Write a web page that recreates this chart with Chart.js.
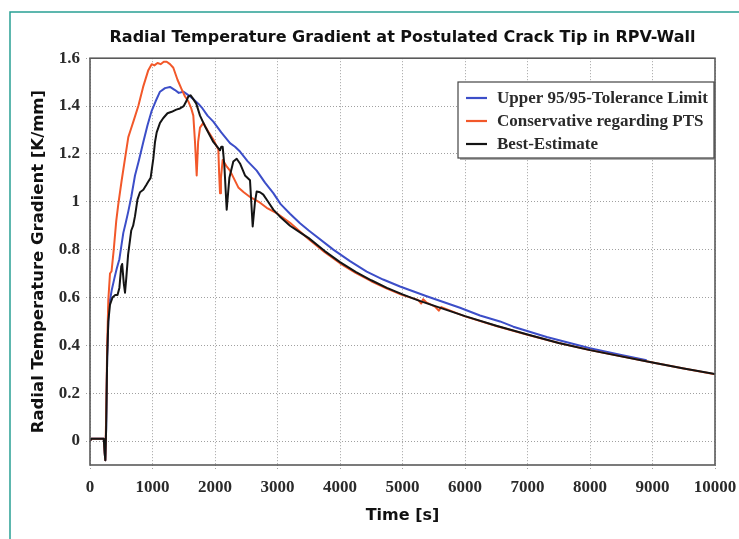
<!DOCTYPE html>
<html>
<head>
<meta charset="utf-8">
<title>Radial Temperature Gradient</title>
<script src="https://cdn.jsdelivr.net/npm/chart.js@4.4.0/dist/chart.umd.min.js"></script>
<style>
  html, body { margin: 0; padding: 0; background: #fff; }
  #wrap { width: 739px; height: 539px; }
</style>
</head>
<body>
<div id="wrap"><canvas id="gradChart" width="739" height="539"></canvas></div>
<script>
// --- Data: time [s] and radial gradient [K/mm] per case ---

const timeTicks = [0, 1000, 2000, 3000, 4000, 5000, 6000, 7000, 8000, 9000, 10000];
const gradTicks = [0, 0.2, 0.4, 0.6, 0.8, 1, 1.2, 1.4, 1.6];

const upperTime = [
    0, 20, 220, 235, 245, 258, 275, 300, 347, 390,
    427, 470, 533, 570, 613, 660, 720, 780, 853, 920,
    987, 1050, 1120, 1200, 1280, 1360, 1420, 1493, 1573, 1650,
    1733, 1800, 1880, 1973, 2100, 2240, 2320, 2400, 2520, 2667,
    2800, 2933, 3050, 3200, 3360, 3500, 3893, 4160, 4427, 4690,
    4960, 5387, 5920, 6240, 6560, 6773, 7307, 8000, 8500, 8907
];
const upperGrad = [
    0, 0.01, 0.01, -0.05, -0.08, 0.05, 0.35, 0.56, 0.63, 0.68,
    0.72, 0.76, 0.87, 0.91, 0.96, 1.02, 1.11, 1.17, 1.25, 1.32,
    1.38, 1.42, 1.46, 1.475, 1.48, 1.467, 1.455, 1.46, 1.446, 1.43,
    1.41, 1.39, 1.36, 1.335, 1.29, 1.245, 1.23, 1.21, 1.17, 1.13,
    1.08, 1.036, 0.99, 0.95, 0.91, 0.88, 0.80, 0.752, 0.708, 0.675,
    0.646, 0.605, 0.557, 0.525, 0.50, 0.478, 0.435, 0.388, 0.36, 0.338
];

const consTime = [
    0, 20, 220, 235, 245, 258, 275, 293, 320, 345,
    380, 420, 453, 507, 560, 613, 650, 700, 773, 850,
    933, 987, 1030, 1080, 1130, 1180, 1227, 1280, 1333, 1400,
    1467, 1520, 1573, 1620, 1653, 1680, 1707, 1730, 1760, 1813,
    1900, 1973, 2030, 2053, 2066, 2080, 2095, 2123, 2180, 2240,
    2373, 2460, 2560, 2700, 2827, 3000, 3200, 3500, 3750, 4000,
    4250, 4500, 4750, 5000, 5250, 5300, 5330, 5380, 5520, 5580,
    5620, 6000, 6500, 7000, 7500, 8000, 8500, 9000, 9500, 10000
];
const consGrad = [
    0, 0.01, 0.01, -0.05, -0.08, 0.1, 0.4, 0.59, 0.7, 0.71,
    0.8, 0.92, 0.99, 1.09, 1.18, 1.27, 1.3, 1.34, 1.4, 1.48,
    1.55, 1.575, 1.57, 1.58, 1.575, 1.585, 1.585, 1.575, 1.56, 1.51,
    1.47, 1.44, 1.42, 1.39, 1.36, 1.25, 1.11, 1.25, 1.31, 1.33,
    1.29, 1.26, 1.23, 1.22, 1.12, 1.036, 1.1, 1.175, 1.15, 1.13,
    1.06, 1.04, 1.02, 1.0, 0.975, 0.95, 0.912, 0.843, 0.79, 0.743,
    0.703, 0.668, 0.637, 0.61, 0.59, 0.575, 0.593, 0.58, 0.562, 0.545,
    0.56, 0.521, 0.481, 0.444, 0.41, 0.38, 0.354, 0.328, 0.303, 0.279
];

const bestTime = [
    0, 20, 220, 235, 245, 258, 275, 293, 320, 360,
    400, 440, 470, 500, 515, 540, 560, 580, 610, 640,
    660, 690, 720, 760, 800, 853, 900, 933, 970, 1013,
    1040, 1067, 1120, 1173, 1240, 1307, 1380, 1440, 1500, 1540,
    1573, 1610, 1650, 1700, 1760, 1850, 1973, 2050, 2080, 2100,
    2123, 2150, 2187, 2230, 2293, 2347, 2400, 2480, 2560, 2603,
    2640, 2667, 2720, 2773, 2850, 2933, 3050, 3200, 3360, 3500,
    3750, 4000, 4250, 4500, 4750, 5000, 5250, 5500, 6000, 6500,
    7000, 7500, 8000, 8500, 9000, 9500, 10000
];
const bestGrad = [
    0, 0.01, 0.01, -0.05, -0.08, 0.05, 0.35, 0.5, 0.57, 0.6,
    0.61, 0.61, 0.64, 0.73, 0.74, 0.66, 0.62, 0.68, 0.78, 0.84,
    0.88, 0.9, 0.94, 1.01, 1.04, 1.05, 1.07, 1.085, 1.1, 1.18,
    1.25, 1.29, 1.33, 1.35, 1.37, 1.376, 1.385, 1.39, 1.4, 1.42,
    1.44, 1.445, 1.43, 1.41, 1.36, 1.31, 1.25, 1.225, 1.215, 1.23,
    1.23, 1.15, 0.967, 1.1, 1.168, 1.18, 1.16, 1.11, 1.09, 0.897,
    1.0, 1.043, 1.04, 1.03, 1.0, 0.967, 0.935, 0.9, 0.872, 0.848,
    0.795, 0.748, 0.707, 0.672, 0.64, 0.613, 0.588, 0.566, 0.522, 0.482,
    0.445, 0.41, 0.38, 0.354, 0.328, 0.303, 0.28
];

function toPoints(times, values) {
    return times.map((t, i) => ({ x: t, y: values[i] }));
}

const serif = 'Liberation Serif';
const sans = 'DejaVu Sans';

// Teal outer frame, plot border and the boxed legend
const framePlugin = {
    id: 'frames',
    beforeDraw(chart) {
        const c = chart.ctx;
        c.save();
        c.fillStyle = '#fff';
        c.fillRect(0, 0, chart.width, chart.height);
        c.strokeStyle = 'rgb(40,160,148)';
        c.lineWidth = 1.5;
        c.beginPath();
        c.moveTo(10, chart.height);
        c.lineTo(10, 12);
        c.lineTo(chart.width, 12);
        c.stroke();
        c.restore();
    },
    afterDraw(chart) {
        const c = chart.ctx;
        const a = chart.chartArea;
        c.save();
        c.strokeStyle = '#5a5a5a';
        c.lineWidth = 1.6;
        c.strokeRect(a.left, a.top, a.right - a.left, a.bottom - a.top);

        // legend box
        const bx = 458, by = 82, bw = 256, bh = 76;
        c.fillStyle = 'rgba(120,120,120,0.6)';
        c.fillRect(bx + 2, by + 2, bw, bh);
        c.fillStyle = '#fff';
        c.fillRect(bx, by, bw, bh);
        c.strokeStyle = '#444';
        c.lineWidth = 1.2;
        c.strokeRect(bx, by, bw, bh);

        c.font = 'bold 17px "' + serif + '"';
        c.textBaseline = 'middle';
        c.textAlign = 'left';
        chart.data.datasets.forEach((ds, i) => {
            const y = by + 16 + i * 23;
            c.strokeStyle = ds.borderColor;
            c.lineWidth = 2.2;
            c.beginPath();
            c.moveTo(bx + 8, y);
            c.lineTo(bx + 29, y);
            c.stroke();
            c.fillStyle = '#2a2a2a';
            c.fillText(ds.label, bx + 39, y + 1);
        });
        c.restore();
    }
};

const ctx = document.getElementById('gradChart');

const gradChart = new Chart(ctx, {
    type: 'line',
    data: {
        datasets: [
            {
                label: 'Upper 95/95-Tolerance Limit',
                data: toPoints(upperTime, upperGrad),
                borderColor: 'rgb(60,78,200)',
                order: 2
            },
            {
                label: 'Conservative regarding PTS',
                data: toPoints(consTime, consGrad),
                borderColor: 'rgb(242,88,42)',
                order: 1
            },
            {
                label: 'Best-Estimate',
                data: toPoints(bestTime, bestGrad),
                borderColor: 'rgb(20,20,20)',
                order: 0
            }
        ]
    },
    options: {
        responsive: false,
        animation: false,
        elements: {
            point: { radius: 0 },
            line: { borderWidth: 2, tension: 0, borderJoinStyle: 'round', fill: false }
        },
        layout: {
            padding: { left: 29, right: 24, top: 0, bottom: 14 }
        },
        scales: {
            x: {
                type: 'linear',
                min: 0,
                max: 10000,
                afterBuildTicks: (scale) => {
                    scale.ticks = timeTicks.map(v => ({ value: v }));
                },
                afterFit: (scale) => {
                    // let the last label run past the plot edge
                    scale.height = 60;
                    scale.paddingRight = 0;
                    scale.paddingLeft = 0;
                },
                ticks: {
                    autoSkip: false,
                    maxRotation: 0,
                    padding: 8,
                    color: '#2a2a2a',
                    font: { family: serif, size: 17, weight: 'bold' },
                    callback: (v) => String(v)
                },
                grid: {
                    color: '#a0a0a0',
                    lineWidth: 1,
                    tickLength: 4,
                    borderDash: [1, 2],
                    tickBorderDash: [1, 2]
                },
                border: { display: false, dash: [1, 2] },
                title: {
                    display: true,
                    text: 'Time [s]',
                    color: '#111',
                    font: { family: sans, size: 16, weight: 'bold' },
                    padding: { top: 0, bottom: 0 }
                }
            },
            y: {
                type: 'linear',
                min: -0.1,
                max: 1.6,
                afterBuildTicks: (scale) => {
                    scale.ticks = gradTicks.map(v => ({ value: v }));
                },
                afterFit: (scale) => {
                    scale.width = 61;
                    scale.paddingTop = 0;
                    scale.paddingBottom = 0;
                },
                ticks: {
                    padding: 6,
                    color: '#2a2a2a',
                    font: { family: serif, size: 17, weight: 'bold' },
                    callback: (v) => String(Math.round(v * 10) / 10)
                },
                grid: {
                    color: '#a0a0a0',
                    lineWidth: 1,
                    tickLength: 4,
                    borderDash: [1, 2],
                    tickBorderDash: [1, 2]
                },
                border: { display: false, dash: [1, 2] },
                title: {
                    display: true,
                    text: 'Radial Temperature Gradient [K/mm]',
                    color: '#111',
                    font: { family: sans, size: 16.5, weight: 'bold' },
                    padding: { top: 0, bottom: 0 }
                }
            }
        },
        plugins: {
            legend: { display: false },
            tooltip: { enabled: false },
            title: {
                display: true,
                fullSize: false,
                text: 'Radial Temperature Gradient at Postulated Crack Tip in RPV-Wall',
                color: '#111',
                font: { family: sans, size: 16, weight: 'bold' },
                padding: { top: 28, bottom: 11 }
            }
        }
    },
    plugins: [framePlugin]
});
</script>
</body>
</html>
